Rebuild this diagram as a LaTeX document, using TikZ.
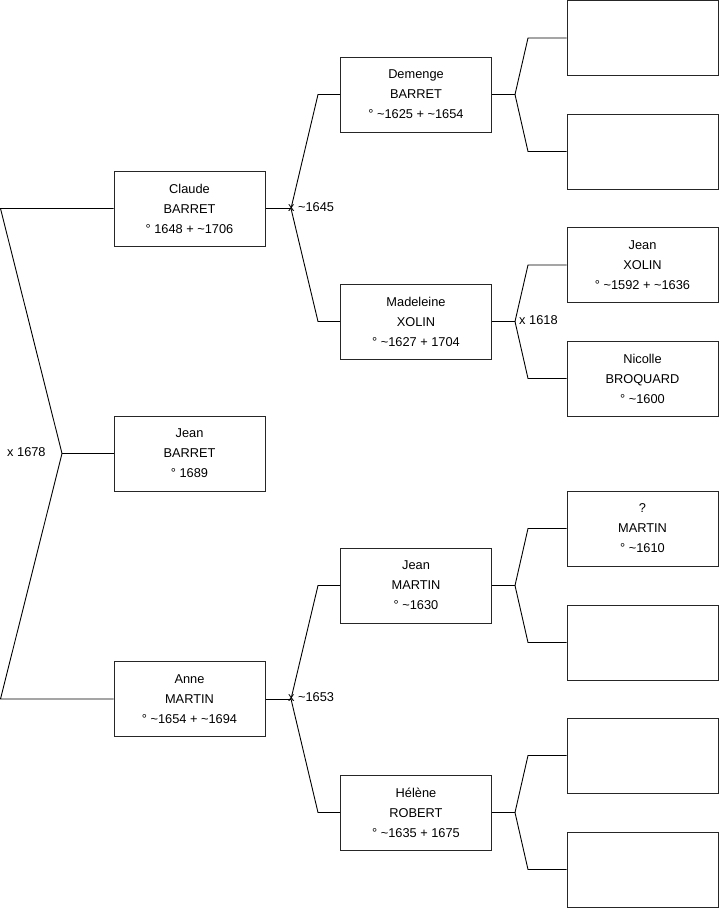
\documentclass[tikz,border=0pt]{standalone}
\usepackage{fontspec}
\setmainfont{Liberation Sans}
\begin{document}
\begin{tikzpicture}[x=1pt,y=-1pt,
  person/.style={draw=black!85,line width=1pt,fill=white,minimum width=151pt,minimum height=75pt,
    inner sep=0pt,align=center,font=\fontsize{12.8}{20}\selectfont},
  link/.style={line width=0.9pt,black},
  marr/.style={anchor=west,inner sep=0pt,font=\fontsize{12.8}{14}\selectfont}]
\useasboundingbox (0,0) rectangle (719,908);
% column 1
\node[person] (cb) at (189.5,208.5) {Claude\\BARRET\\° 1648 + \textasciitilde1706};
\node[person] (jb) at (189.5,453.5) {Jean\\BARRET\\° 1689};
\node[person] (am) at (189.5,699) {Anne\\MARTIN\\° \textasciitilde1654 + \textasciitilde1694};
% column 2
\node[person] (db) at (416,94.5) {Demenge\\BARRET\\° \textasciitilde1625 + \textasciitilde1654};
\node[person] (mx) at (416,321.5) {Madeleine\\XOLIN\\° \textasciitilde1627 + 1704};
\node[person] (jm) at (416,585.5) {Jean\\MARTIN\\° \textasciitilde1630};
\node[person] (hr) at (416,812.5) {Hélène\\ROBERT\\° \textasciitilde1635 + 1675};
% column 3
\node[person] (g1) at (642.5,38) {};
\node[person] (g2) at (642.5,151.5) {};
\node[person] (g3) at (642.5,265) {Jean\\XOLIN\\° \textasciitilde1592 + \textasciitilde1636};
\node[person] (g4) at (642.5,378.5) {Nicolle\\BROQUARD\\° \textasciitilde1600};
\node[person] (g5) at (642.5,528.5) {?\\MARTIN\\° \textasciitilde1610};
\node[person] (g6) at (642.5,642.5) {};
\node[person] (g7) at (642.5,755.5) {};
\node[person] (g8) at (642.5,869.5) {};
% junction coordinates
\coordinate (L1) at (0.5,208.5);
\coordinate (L2) at (0.5,699);
\coordinate (J0) at (62,453.5);
\coordinate (J1) at (291,208.5);
\coordinate (J2) at (291,699);
\coordinate (J11) at (515,94.5);
\coordinate (J12) at (515,321.5);
\coordinate (J21) at (515,585.5);
\coordinate (J22) at (515,812.5);
% left bracket
\draw[link] (cb.west) -- (L1) -- (J0) -- (L2) -- (am.west);
\draw[link] (J0) -- (jb.west);
% column 1 -> 2
\draw[link] (cb.east) -- (J1);
\draw[link] (db.west) -- (318,94.5) -- (J1) -- (318,321.5) -- (mx.west);
\draw[link] (am.east) -- (J2);
\draw[link] (jm.west) -- (318,585.5) -- (J2) -- (318,812.5) -- (hr.west);
% column 2 -> 3
\draw[link] (db.east) -- (J11);
\draw[link] (g1.west) -- (528,38) -- (J11) -- (528,151.5) -- (g2.west);
\draw[link] (mx.east) -- (J12);
\draw[link] (g3.west) -- (528,265) -- (J12) -- (528,378.5) -- (g4.west);
\draw[link] (jm.east) -- (J21);
\draw[link] (g5.west) -- (528,528.5) -- (J21) -- (528,642.5) -- (g6.west);
\draw[link] (hr.east) -- (J22);
\draw[link] (g7.west) -- (528,755.5) -- (J22) -- (528,869.5) -- (g8.west);
% marriage labels
\node[marr] (m0) at (7,452) {x 1678};
\node[marr] (m1) at (288,207.5) {x \textasciitilde1645};
\node[marr] (m2) at (288,697.5) {x \textasciitilde1653};
\node[marr] (m3) at (519,320.5) {x 1618};
\end{tikzpicture}
\end{document}
